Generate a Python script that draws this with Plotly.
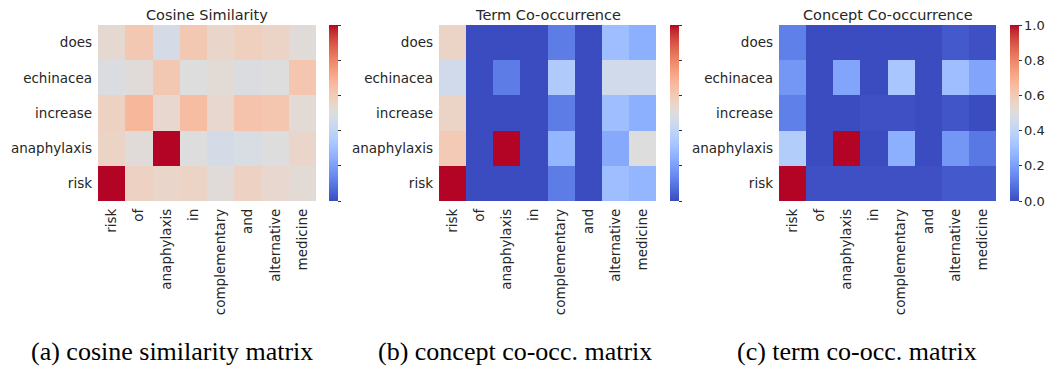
import plotly.graph_objects as go

rows = ["does", "echinacea", "increase", "anaphylaxis", "risk"]
cols = ["risk", "of", "anaphylaxis", "in", "complementary", "and", "alternative", "medicine"]

cosine = [
    [0.53, 0.61, 0.47, 0.61, 0.55, 0.58, 0.56, 0.51],
    [0.49, 0.51, 0.61, 0.50, 0.52, 0.49, 0.50, 0.62],
    [0.57, 0.67, 0.54, 0.65, 0.54, 0.63, 0.62, 0.52],
    [0.56, 0.51, 1.00, 0.50, 0.47, 0.48, 0.50, 0.55],
    [1.00, 0.57, 0.55, 0.56, 0.51, 0.57, 0.54, 0.52],
]
term_cooc = [
    [0.56, 0.00, 0.00, 0.00, 0.11, 0.00, 0.30, 0.25],
    [0.45, 0.00, 0.11, 0.00, 0.35, 0.00, 0.45, 0.45],
    [0.56, 0.00, 0.00, 0.00, 0.11, 0.00, 0.30, 0.25],
    [0.60, 0.00, 1.00, 0.00, 0.27, 0.00, 0.23, 0.50],
    [1.00, 0.00, 0.00, 0.00, 0.11, 0.00, 0.30, 0.27],
]
concept_cooc = [
    [0.12, 0.00, 0.00, 0.00, 0.00, 0.00, 0.03, 0.01],
    [0.18, 0.00, 0.22, 0.00, 0.33, 0.00, 0.30, 0.22],
    [0.12, 0.00, 0.00, 0.01, 0.01, 0.00, 0.02, 0.00],
    [0.36, 0.00, 1.00, 0.00, 0.25, 0.00, 0.18, 0.10],
    [1.00, 0.01, 0.01, 0.01, 0.01, 0.01, 0.03, 0.03],
]
titles = ["Cosine Similarity", "Term Co-occurrence", "Concept Co-occurrence"]
captions = ["(a) cosine similarity matrix", "(b) concept co-occ. matrix", "(c) term co-occ. matrix"]
cbar_ticks = [0.0, 0.2, 0.4, 0.6, 0.8, 1.0]

coolwarm_rgb = [
    (59, 76, 192), (68, 90, 204), (77, 104, 215), (87, 117, 225), (98, 130, 234),
    (108, 142, 241), (119, 154, 247), (130, 165, 251), (141, 176, 254), (152, 185, 255),
    (163, 194, 255), (174, 201, 253), (184, 208, 249), (194, 213, 244), (204, 217, 238),
    (213, 219, 230), (221, 221, 221), (229, 216, 209), (236, 211, 197), (241, 204, 184),
    (245, 196, 173), (247, 187, 160), (247, 177, 148), (247, 166, 135), (244, 154, 123),
    (241, 141, 111), (236, 127, 99), (229, 112, 88), (222, 96, 77), (213, 80, 66),
    (203, 62, 56), (192, 40, 47), (180, 4, 38),
]
n = len(coolwarm_rgb)
coolwarm = [[i / (n - 1), "rgb(%d,%d,%d)" % c] for i, c in enumerate(coolwarm_rgb)]

W, H = 1052, 367
top_px, bot_px = 25, 201
panels_x = [(98, 316), (439, 656), (779, 996)]
cbar_x = [329, 670, 1010]
cap_x = [171.5, 515, 857]

fig = go.Figure()
font = "DejaVu Sans"
data_list = [cosine, term_cooc, concept_cooc]
for k in range(3):
    ax = "" if k == 0 else str(k + 1)
    fig.add_trace(go.Heatmap(
        z=data_list[k], x=cols, y=rows, zmin=0, zmax=1,
        colorscale=coolwarm, xaxis="x" + ax, yaxis="y" + ax,
        xgap=0, ygap=0,
        colorbar=dict(
            x=cbar_x[k] / W, xanchor="left", xpad=0,
            y=1 - top_px / H, yanchor="top", ypad=0,
            len=bot_px - top_px, lenmode="pixels",
            thickness=9, outlinewidth=0,
            tickmode="array", tickvals=cbar_ticks,
            ticktext=["%.1f" % t for t in cbar_ticks],
            ticks="outside", ticklen=3, tickwidth=1, tickcolor="#333",
            showticklabels=(k == 2),
            tickfont=dict(family=font, size=13, color="#262626"),
        ),
    ))
    x0, x1 = panels_x[k]
    fig.layout["xaxis" + ax] = dict(
        domain=[x0 / W, x1 / W], anchor="y" + ax,
        tickangle=-90, ticks="", showgrid=False, zeroline=False, showline=False,
        tickfont=dict(family=font, size=13.5, color="#262626"),
        ticklabelstandoff=4,
    )
    fig.layout["yaxis" + ax] = dict(
        domain=[1 - bot_px / H, 1 - top_px / H], anchor="x" + ax,
        autorange="reversed", ticks="", showgrid=False, zeroline=False, showline=False,
        tickfont=dict(family=font, size=13.5, color="#262626"),
        ticklabelstandoff=5,
    )
    fig.add_annotation(
        text=titles[k], x=(x0 + x1) / 2 / W, y=1 - 15 / H, xref="paper", yref="paper",
        xanchor="center", yanchor="middle", showarrow=False,
        font=dict(family=font, size=14.5, color="#262626"),
    )
    fig.add_annotation(
        text=captions[k], x=cap_x[k] / W, y=1 - 351 / H, xref="paper", yref="paper",
        xanchor="center", yanchor="middle", showarrow=False,
        font=dict(family="Liberation Serif", size=26, color="black"),
    )

fig.update_layout(
    width=W, height=H, margin=dict(l=0, r=0, t=0, b=0),
    paper_bgcolor="white", plot_bgcolor="white", showlegend=False,
)
fig.write_html("out.html", config={"displayModeBar": False},
               post_script="document.body.style.margin='0';")
